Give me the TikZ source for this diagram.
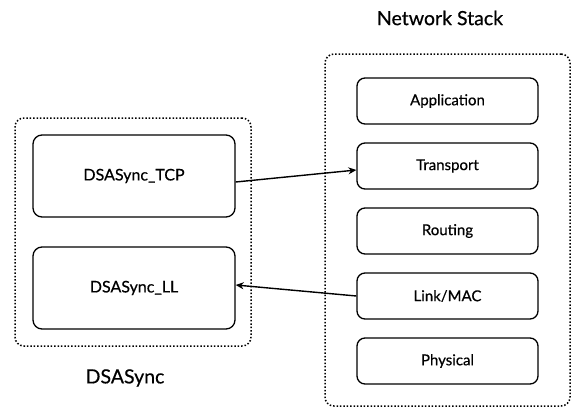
\documentclass[tikz,border=0pt]{standalone}
\usepackage{fontspec}
\setmainfont{Lato}[FakeBold=0.5]
\usetikzlibrary{arrows.meta}
\begin{document}
\begin{tikzpicture}[x=1pt, y=-1pt,
        capa/.style={draw, line width=1.3pt, rounded corners=8pt, minimum width=181pt, minimum height=46pt, font=\fontsize{15}{17}\selectfont},
        modulo/.style={draw, line width=1.3pt, rounded corners=9pt, minimum width=202pt, minimum height=82pt, font=\fontsize{16}{18}\selectfont},
        grupo/.style={draw, line width=1.5pt, dash pattern=on 1.5pt off 1.9pt, rounded corners=9pt},
        titulo/.style={font=\fontsize{19.5}{22}\selectfont},
        flecha/.style={-{Stealth[length=8pt, width=7pt]}, line width=1.4pt}]
    \useasboundingbox (0,0) rectangle (574,408);

    % Cajas punteadas exteriores
    \node[grupo, minimum width=245pt, minimum height=352pt] (pila) at (447.5,230) {};
    \node[grupo, minimum width=236pt, minimum height=228pt] (dsa) at (133,232) {};

    % Capas de la pila de red
    \node[capa] (app) at (447.5,101) {Application};
    \node[capa] (transp) at (447.5,166) {Transport};
    \node[capa] (rout) at (447.5,231) {Routing};
    \node[capa] (link) at (447.5,296) {Link/MAC};
    \node[capa] (phys) at (447.5,361) {Physical};

    % Modulos de DSASync
    \node[modulo] (tcp) at (134,176) {DSASync\_TCP};
    \node[modulo] (ll) at (134,288) {DSASync\_LL};

    % Titulos
    \node[titulo] (tpila) at (440,18) {Network Stack};
    \node[titulo] (tdsa) at (125,378) {DSASync};

    % Conexiones
    \draw[flecha] ([yshift=-6pt]tcp.east) -- ([yshift=-4pt]transp.west);
    \draw[flecha] (link.west) -- ([yshift=3pt]ll.east);
\end{tikzpicture}
\end{document}
